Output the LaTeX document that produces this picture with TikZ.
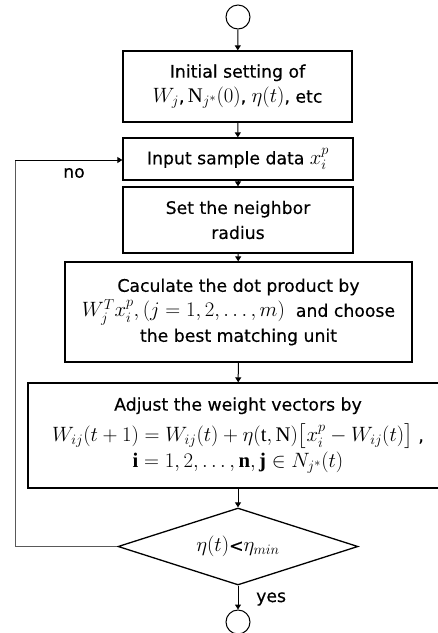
\documentclass[tikz,border=0pt]{standalone}
\usepackage{amsmath}
\usepackage{fontspec}
\setmainfont[FakeBold=0.4]{DejaVu Sans}
\setmathrm{Liberation Serif}
\DeclareMathSizes{17.28}{20.74}{14.4}{12}
\usetikzlibrary{shapes.geometric,arrows.meta}
\begin{document}
\begin{tikzpicture}[x=1pt,y=-1pt,
  box/.style={draw, line width=1.3pt, align=center, inner sep=0pt, font=\fontsize{17.28}{25}\selectfont},
  term/.style={draw, circle, line width=1pt, minimum size=24pt, inner sep=0pt},
  arr/.style={-{Triangle[length=5pt,width=6pt]}, line width=1pt},
  loopline/.style={draw=black!65, line width=0.9pt},
  lbl/.style={font=\fontsize{17.28}{20}\selectfont, inner sep=0pt}
]
\useasboundingbox (0,0) rectangle (438,633);
\node[term] (start) at (238,17) {};
\node[box, minimum width=229pt, minimum height=71pt] (init) at (237.5,86.5)
  {Initial setting of\\ $W_j$,$\,\mathrm{N}_{j^*}(0)$, $\eta(t)$, etc};
\node[box, minimum width=230pt, minimum height=42pt] (input) at (238,159)
  {Input sample data $x_i^p$};
\node[box, minimum width=230pt, minimum height=66pt] (radius) at (238,220)
  {Set the neighbor\\ radius};
\node[box, minimum width=347pt, minimum height=100pt] (dot) at (238.5,312)
  {Caculate the dot product by\\ $W_j^T x_i^p, (j=1,2,\ldots,m)$\ \ and choose\\ the best matching unit};
\node[box, minimum width=420pt, minimum height=105pt] (adjust) at (238,435.5)
  {Adjust the weight vectors by\\[6pt]
   $W_{ij}(t+1)=W_{ij}(t)+\eta(\mathrm{t},\mathrm{N})\bigl[x_i^p-W_{ij}(t)\bigr]$ ,\\[1pt]
   $\mathbf{i}=1,2,\ldots,\mathbf{n},\mathbf{j}\in N_{j^*}(t)$};
\node[draw, diamond, aspect=3.1, line width=1.3pt, minimum width=240pt, minimum height=77pt, inner sep=0pt,
  font=\fontsize{17.28}{20}\selectfont] (cond) at (238,546.5) {$\eta(t)$<$\eta_{min}$};
\node[term] (stop) at (238,622) {};
\coordinate (c1) at (15,546.5);
\coordinate (c2) at (15,160);
\draw[arr] (start) -- (init);
\draw[arr] (init) -- (input);
\draw[arr] (input) -- (radius);
\draw[arr] (radius) -- (dot);
\draw[arr] (dot) -- (adjust);
\draw[arr] (adjust) -- (cond);
\draw[arr] (cond) -- (stop);
\draw[loopline] (cond.west) -- (c1) -- (c2);
\draw[arr] (c2) -- (input.west |- c2);
\node[lbl] (no) at (74,173) {no};
\node[lbl, anchor=west] (yes) at (256,599) {yes};
\end{tikzpicture}
\end{document}
